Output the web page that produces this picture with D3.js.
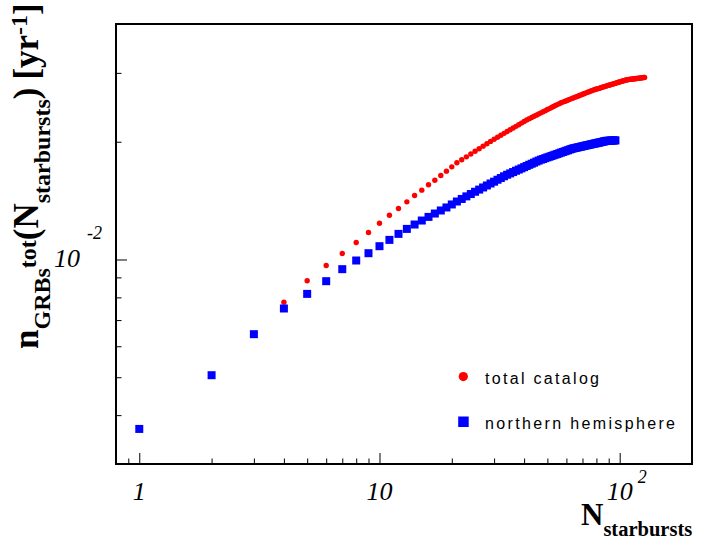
<!DOCTYPE html>
<html>
<head>
<meta charset="utf-8">
<script src="https://cdn.jsdelivr.net/npm/d3@7"></script>
<style>
  html, body { margin: 0; padding: 0; background: #ffffff; }
  svg { display: block; }
</style>
</head>
<body>
<svg id="chart" width="721" height="539"></svg>
<script>
// ---------------- data ----------------
const totalN = [4,5,6,7,8,9,10,11,12,13,14,15,16,17,18,19,20,21,22,23,24,25,26,27,28,29,30,
  31,32,33,34,35,36,37,38,39,40,41,42,43,44,45,46,47,48,49,50,51,52,53,54,55,56,57,58,59,60,
  61,62,63,64,65,66,67,68,69,70,71,72,73,74,75,76,77,78,79,80,81,82,83,84,85,86,87,88,89,90,
  91,92,93,94,95,96,97,98,99,100,101,102,103,104,105,106,107,108,109,110,111,112,113,114,115,
  116,117,118,119,120,121,122,123,124,125,126,127];
const totalRate = [0.00778,0.00882,0.00965,0.01036,0.01105,0.01172,0.01238,0.01298,0.01350,0.01404,
  0.01458,0.01504,0.01552,0.01595,0.01640,0.01682,0.01725,0.01767,0.01799,0.01830,0.01861,0.01891,
  0.01920,0.01949,0.01977,0.02004,0.02030,0.02054,0.02078,0.02101,0.02124,0.02147,0.02169,0.02190,
  0.02211,0.02232,0.02253,0.02273,0.02290,0.02307,0.02323,0.02339,0.02356,0.02371,0.02386,0.02402,
  0.02417,0.02431,0.02446,0.02461,0.02475,0.02489,0.02503,0.02515,0.02526,0.02536,0.02547,0.02556,
  0.02567,0.02578,0.02587,0.02597,0.02607,0.02616,0.02626,0.02635,0.02645,0.02654,0.02663,0.02671,
  0.02681,0.02689,0.02698,0.02707,0.02714,0.02721,0.02727,0.02733,0.02739,0.02745,0.02752,0.02759,
  0.02765,0.02771,0.02776,0.02783,0.02788,0.02794,0.02800,0.02806,0.02811,0.02816,0.02823,0.02828,
  0.02834,0.02839,0.02844,0.02850,0.02855,0.02861,0.02865,0.02870,0.02876,0.02879,0.02882,0.02885,
  0.02887,0.02889,0.02891,0.02893,0.02895,0.02897,0.02899,0.02901,0.02903,0.02905,0.02907,0.02909,
  0.02911,0.02913,0.02915,0.02917,0.02919,0.02921];

const northN = [1,2,3,4,5,6,7,8,9,10,11,12,13,14,15,16,17,18,19,20,21,22,23,24,25,26,27,28,29,30,
  31,32,33,34,35,36,37,38,39,40,41,42,43,44,45,46,47,48,49,50,51,52,53,54,55,56,57,58,59,60,
  61,62,63,64,65,66,67,68,69,70,71,72,73,74,75,76,77,78,79,80,81,82,83,84,85,86,87,88,89,90,
  91,92,93,94,95,96];
const northRate = [0.003688,0.005060,0.006442,0.007494,0.008167,0.008801,0.009446,0.009940,0.010377,
  0.010814,0.011223,0.011627,0.011973,0.012286,0.012578,0.012850,0.013107,0.013344,0.013583,0.013826,
  0.014068,0.01428,0.01450,0.01470,0.01490,0.01509,0.01528,0.01546,0.01564,0.01581,0.01599,0.01615,
  0.01632,0.01647,0.01660,0.01673,0.01686,0.01698,0.01710,0.01722,0.01734,0.01746,0.01757,0.01768,
  0.01780,0.01790,0.01800,0.01807,0.01816,0.01824,0.01831,0.01839,0.01847,0.01854,0.01861,0.01869,
  0.01876,0.01883,0.01890,0.01897,0.01903,0.01911,0.01917,0.01923,0.01927,0.01931,0.01935,0.01939,
  0.01943,0.01947,0.01951,0.01955,0.01959,0.01962,0.01966,0.01970,0.01973,0.01977,0.01980,0.01983,
  0.01987,0.01990,0.01993,0.01997,0.02000,0.02004,0.02007,0.02010,0.02011,0.02012,0.02013,0.02013,
  0.02014,0.02015,0.02016,0.02016];

const xMajorTicks = [1, 10, 100];
const xMinorTicks = [0.9, 2, 3, 4, 5, 6, 7, 8, 9, 20, 30, 40, 50, 60, 70, 80, 90];
const yMajorTicks = [0.01];
const yMinorTicks = [0.004, 0.005, 0.006, 0.007, 0.008, 0.009, 0.02, 0.03];
const xTickLabels = [{v: 1, base: "1", exp: ""}, {v: 10, base: "10", exp: ""}, {v: 100, base: "10", exp: "2"}];
const yTickLabels = [{v: 0.01, base: "10", exp: "-2"}];
const legendLabels = ["total catalog", "northern hemisphere"];

// ---------------- layout ----------------
const svg = d3.select("#chart");
const L = 116, R = 692, T = 24, B = 464;
const x = d3.scaleLog().domain([0.8, 200]).range([L, R]);
const y = d3.scaleLog().domain([0.003, 0.04]).range([B, T]);
const serif = "'Liberation Serif', 'Times New Roman', Times, serif";
const sans = "'Liberation Sans', Arial, sans-serif";

svg.append("rect").attr("width", 721).attr("height", 539).attr("fill", "#fff");

// axes (ticks inside the frame)
function styleAxis(g) {
  g.select(".domain").remove();
  g.selectAll("line").attr("stroke", "#000").attr("stroke-width", 1);
  g.selectAll("text").remove();
}
svg.append("g").attr("transform", `translate(0,${B})`)
  .call(d3.axisBottom(x).tickValues(xMajorTicks).tickSize(-11).tickFormat(""))
  .call(styleAxis);
svg.append("g").attr("transform", `translate(0,${B})`)
  .call(d3.axisBottom(x).tickValues(xMinorTicks).tickSize(-5.5).tickFormat(""))
  .call(styleAxis);
svg.append("g").attr("transform", `translate(${L},0)`)
  .call(d3.axisLeft(y).tickValues(yMajorTicks).tickSize(-11).tickFormat(""))
  .call(styleAxis);
svg.append("g").attr("transform", `translate(${L},0)`)
  .call(d3.axisLeft(y).tickValues(yMinorTicks).tickSize(-5.5).tickFormat(""))
  .call(styleAxis);

// frame
svg.append("rect").attr("x", L).attr("y", T).attr("width", R - L).attr("height", B - T)
  .attr("fill", "none").attr("stroke", "#000").attr("stroke-width", 2);

// x tick labels
xTickLabels.forEach(d => {
  const t = svg.append("text").attr("font-family", serif).attr("font-style", "italic")
    .attr("font-size", 26).attr("fill", "#000");
  if (d.exp) {
    t.attr("x", x(d.v) - 13).attr("y", 500);
    t.append("tspan").text(d.base);
    t.append("tspan").attr("dx", 5).attr("dy", -17).attr("font-size", 18).text(d.exp);
  } else {
    t.attr("x", x(d.v)).attr("y", 500).attr("text-anchor", "middle").text(d.base);
  }
});

// y tick labels
yTickLabels.forEach(d => {
  const t = svg.append("text").attr("font-family", serif).attr("font-style", "italic")
    .attr("font-size", 26).attr("fill", "#000").attr("x", 54).attr("y", y(d.v) + 8);
  t.append("tspan").text(d.base);
  t.append("tspan").attr("dx", 7).attr("dy", -28).attr("font-size", 18).text(d.exp);
});

// data
const total = totalN.map((n, i) => ({n, v: totalRate[i]}));
const north = northN.map((n, i) => ({n, v: northRate[i]}));
svg.append("g").selectAll("circle").data(total).join("circle")
  .attr("cx", d => x(d.n)).attr("cy", d => y(d.v)).attr("r", 2.7).attr("fill", "#ff0000");
svg.append("g").selectAll("rect").data(north).join("rect")
  .attr("x", d => x(d.n) - 4).attr("y", d => y(d.v) - 4).attr("width", 8).attr("height", 8)
  .attr("fill", "#0000ff");

// legend
svg.append("circle").attr("cx", 463.3).attr("cy", 376.6).attr("r", 4.6).attr("fill", "#ff0000");
svg.append("rect").attr("x", 458.2).attr("y", 416.5).attr("width", 10.5).attr("height", 10.5).attr("fill", "#0000ff");
svg.append("text").attr("x", 485).attr("y", 384).attr("font-family", sans).attr("font-size", 16)
  .attr("textLength", 114).attr("lengthAdjust", "spacing").text(legendLabels[0]);
svg.append("text").attr("x", 485).attr("y", 428.5).attr("font-family", sans).attr("font-size", 16)
  .attr("textLength", 190).attr("lengthAdjust", "spacing").text(legendLabels[1]);

// x axis title
const xt = svg.append("text").attr("x", 581).attr("y", 525).attr("font-family", serif)
  .attr("font-weight", "bold").attr("font-size", 31).attr("fill", "#000");
xt.append("tspan").text("N");
xt.append("tspan").attr("font-size", 20.5).attr("dy", 11).text("starbursts");

// y axis title
const yt = svg.append("text").attr("transform", "translate(38,349) rotate(-90)")
  .attr("font-family", serif).attr("font-weight", "bold").attr("font-size", 35).attr("fill", "#000");
yt.append("tspan").text("n");
yt.append("tspan").attr("font-size", 24).attr("dy", 12).text("GRBs");
yt.append("tspan").attr("font-size", 24).attr("dy", -14).text("tot");
yt.append("tspan").attr("dy", 2).text("(N");
yt.append("tspan").attr("font-size", 24).attr("dy", 12).text("starbursts");
yt.append("tspan").attr("dy", -12).text(")");
yt.append("tspan").attr("dx", 8).text("[yr");
yt.append("tspan").attr("font-size", 24).attr("dy", -11).text("-1");
yt.append("tspan").attr("dy", 11).text("]");
</script>
</body>
</html>
